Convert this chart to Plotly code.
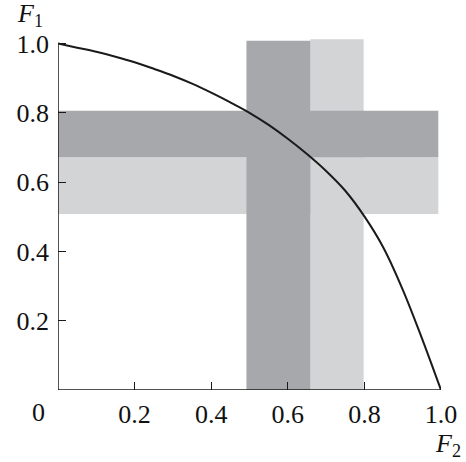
import plotly.graph_objects as go

# Pareto-like front curve
front_f2 = [0.0, 0.05, 0.1, 0.15, 0.2, 0.25, 0.3, 0.35, 0.4, 0.45, 0.5,
            0.55, 0.6, 0.65, 0.7, 0.75, 0.8, 0.85, 0.9, 0.95, 1.0]
front_f1 = [1.0, 0.988, 0.976, 0.962, 0.946, 0.927, 0.907, 0.884, 0.858, 0.830, 0.800,
            0.765, 0.725, 0.681, 0.632, 0.575, 0.501, 0.410, 0.290, 0.150, 0.0]

# Bands: [x0, x1, y0, y1]
light_h = [0.0, 0.993, 0.508, 0.672]
light_v = [0.659, 0.798, 0.0, 1.012]
dark_h = [0.0, 0.993, 0.672, 0.806]
dark_v = [0.492, 0.659, 0.0, 1.008]

x_ticks = [0.2, 0.4, 0.6, 0.8, 1.0]
x_ticklabels = ["0.2", "0.4", "0.6", "0.8", "1.0"]
y_ticks = [0.2, 0.4, 0.6, 0.8, 1.0]
y_ticklabels = ["0.2", "0.4", "0.6", "0.8", "1.0"]

DARK = "#a7a8ab"
LIGHT = "#d3d4d6"
FONT = "Liberation Serif, Times New Roman, Times, serif"
FS = 26
TXT = "#111111"

fig = go.Figure()

shapes = []
for band, col in [(light_h, LIGHT), (light_v, LIGHT), (dark_h, DARK), (dark_v, DARK)]:
    shapes.append(dict(type="rect", xref="x", yref="y", x0=band[0], x1=band[1],
                       y0=band[2], y1=band[3], fillcolor=col, line=dict(width=0),
                       layer="below"))
# axis lines
shapes.append(dict(type="line", xref="x", yref="y", x0=0, x1=0, y0=0, y1=1.0,
                   line=dict(color="#1a1a1a", width=1.5), layer="above"))
shapes.append(dict(type="line", xref="x", yref="y", x0=0, x1=1.0, y0=0, y1=0,
                   line=dict(color="#1a1a1a", width=1.5), layer="above"))

fig.add_trace(go.Scatter(x=front_f2, y=front_f1, mode="lines",
                         line=dict(color="#1a1a1a", width=2, shape="spline", smoothing=1.0),
                         cliponaxis=False, showlegend=False, hoverinfo="skip"))

fig.update_layout(
    width=466, height=462,
    margin=dict(l=58, r=25, t=39, b=72, autoexpand=False),
    paper_bgcolor="white", plot_bgcolor="white",
    shapes=shapes,
    font=dict(family=FONT, size=FS, color=TXT),
    xaxis=dict(range=[0, 1.0], showgrid=False, zeroline=False, showline=False,
               automargin=False,
               tickmode="array", tickvals=x_ticks, ticktext=x_ticklabels,
               ticks="inside", ticklen=8, tickwidth=1.2, tickcolor="#1a1a1a",
               ticklabelstandoff=6,
               tickfont=dict(family=FONT, size=FS, color=TXT)),
    yaxis=dict(range=[0, 1.013], showgrid=False, zeroline=False, showline=False,
               automargin=False,
               tickmode="array", tickvals=y_ticks, ticktext=y_ticklabels,
               ticks="inside", ticklen=8, tickwidth=1.2, tickcolor="#1a1a1a",
               ticklabelstandoff=8,
               tickfont=dict(family=FONT, size=FS, color=TXT)),
    annotations=[
        dict(text="0", xref="paper", yref="paper", x=-0.052, y=-0.0655,
             xanchor="center", yanchor="middle", showarrow=False,
             font=dict(family=FONT, size=FS, color=TXT)),
        dict(text="<i>F</i><sub>1</sub>", xref="paper", yref="paper",
             x=-0.073, y=1.068, xanchor="center", yanchor="middle", showarrow=False,
             font=dict(family=FONT, size=FS, color=TXT)),
        dict(text="<i>F</i><sub>2</sub>", xref="paper", yref="paper",
             x=1.018, y=-0.158, xanchor="center", yanchor="middle", showarrow=False,
             font=dict(family=FONT, size=FS, color=TXT)),
    ],
)

fig.write_html("out.html")
